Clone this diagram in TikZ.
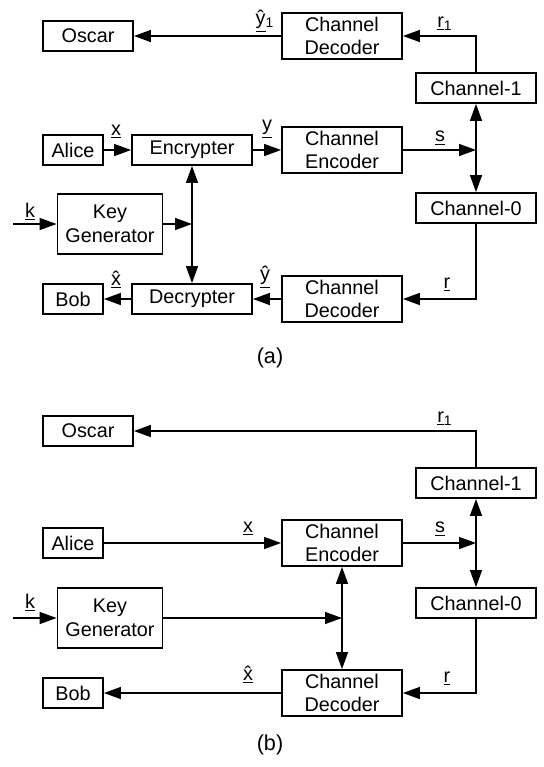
\documentclass[tikz,border=0pt]{standalone}
\usepackage{fontspec}
\setmainfont{Liberation Sans}
\usetikzlibrary{arrows.meta, positioning, calc}

\begin{document}
\begin{tikzpicture}[x=0.5pt, y=-0.5pt,
    box/.style={draw, line width=0.9pt, inner sep=0pt, align=center,
                minimum width=60pt, minimum height=15pt,
                font=\fontsize{9.9}{11.8}\selectfont},
    tall/.style={minimum height=23pt},
    small/.style={minimum width=30pt},
    lbl/.style={anchor=base, inner sep=0pt, font=\fontsize{9.9}{11.8}\selectfont},
    arr/.style={line width=0.7pt, -{Triangle[length=8.5pt, width=6pt]}},
    darr/.style={line width=0.7pt, {Triangle[length=8.5pt, width=6pt]}-{Triangle[length=8.5pt, width=6pt]}}]
  \useasboundingbox (0,0) rectangle (543,767);

  % (a)
  \node[box, minimum width=45pt] (oscarA) at (88,36) {Oscar};
  \node[box, tall] (cdecA1) at (342,36) {Channel\\Decoder};
  \node[box] (ch1A) at (476,88) {Channel-1};
  \node[box, small] (aliceA) at (73,150) {Alice};
  \node[box] (encrA) at (192,150) {Encrypter};
  \node[box, tall] (cencA) at (342,150) {Channel\\Encoder};
  \node[box] (ch0A) at (476,208) {Channel-0};
  \node[box, minimum width=52.5pt, minimum height=30pt] (keyA) at (110,224) {Key\\Generator};
  \node[box, small] (bobA) at (73,299) {Bob};
  \node[box] (decrA) at (192,299) {Decrypter};
  \node[box, tall] (cdecA0) at (342,299) {Channel\\Decoder};
  \node[font=\fontsize{10.8}{13}\selectfont] (capA) at (270,358) {(a)};

  \coordinate (kinA) at (13,224);
  \coordinate (jsA) at (ch1A.south |- cencA.east);
  \coordinate (jkA) at (encrA.south |- keyA.east);

  \draw[arr] (cdecA1.west) -- (oscarA.east);
  \draw[arr] (ch1A.north) |- (cdecA1.east);
  \draw[arr] (aliceA.east) -- (encrA.west);
  \draw[arr] (encrA.east) -- (cencA.west);
  \draw[arr] (cencA.east) -- (jsA);
  \draw[darr] (ch1A.south) -- (ch0A.north);
  \draw[arr] (ch0A.south) |- (cdecA0.east);
  \draw[arr] (cdecA0.west) -- (decrA.east);
  \draw[arr] (decrA.west) -- (bobA.east);
  \draw[arr] (kinA) -- (keyA.west);
  \draw[arr] (keyA.east) -- (jkA);
  \draw[darr] (encrA.south) -- (decrA.north);

  \node[lbl] (yhA1) at (265,24) {\underline{\^{y}}\textsubscript{1}};
  \node[lbl] (rA1) at (445,27) {\underline{r}\textsubscript{1}};
  \node[lbl] (xA) at (116,135) {\underline{x}};
  \node[lbl] (yA) at (267,130) {\underline{y}};
  \node[lbl] (sA) at (440,141) {\underline{s}};
  \node[lbl] (kA) at (30,217) {\underline{k}};
  \node[lbl] (xhA) at (116,285) {\underline{\^{x}}};
  \node[lbl] (yhA) at (265,280) {\underline{\^{y}}};
  \node[lbl] (rA) at (447,288) {\underline{r}};

  % (b)
  \node[box, minimum width=45pt] (oscarB) at (88,431) {Oscar};
  \node[box] (ch1B) at (476,483) {Channel-1};
  \node[box, small] (aliceB) at (73,543) {Alice};
  \node[box, tall] (cencB) at (342,543) {Channel\\Encoder};
  \node[box] (ch0B) at (476,603) {Channel-0};
  \node[box, minimum width=52.5pt, minimum height=30pt] (keyB) at (110,618) {Key\\Generator};
  \node[box, small] (bobB) at (73,693) {Bob};
  \node[box, tall] (cdecB) at (342,693) {Channel\\Decoder};
  \node[font=\fontsize{10.8}{13}\selectfont] (capB) at (270,745) {(b)};

  \coordinate (kinB) at (13,618);
  \coordinate (jsB) at (ch1B.south |- cencB.east);
  \coordinate (jkB) at (cencB.south |- keyB.east);

  \draw[arr] (ch1B.north) |- (oscarB.east);
  \draw[arr] (aliceB.east) -- (cencB.west);
  \draw[arr] (cencB.east) -- (jsB);
  \draw[darr] (ch1B.south) -- (ch0B.north);
  \draw[arr] (ch0B.south) |- (cdecB.east);
  \draw[arr] (cdecB.west) -- (bobB.east);
  \draw[arr] (kinB) -- (keyB.west);
  \draw[arr] (keyB.east) -- (jkB);
  \draw[darr] (cencB.south) -- (cdecB.north);

  \node[lbl] (rB1) at (445,422) {\underline{r}\textsubscript{1}};
  \node[lbl] (xB) at (248,532) {\underline{x}};
  \node[lbl] (sB) at (440,532) {\underline{s}};
  \node[lbl] (kB) at (30,608) {\underline{k}};
  \node[lbl] (xhB) at (248,680) {\underline{\^{x}}};
  \node[lbl] (rB) at (447,682) {\underline{r}};
\end{tikzpicture}
\end{document}
